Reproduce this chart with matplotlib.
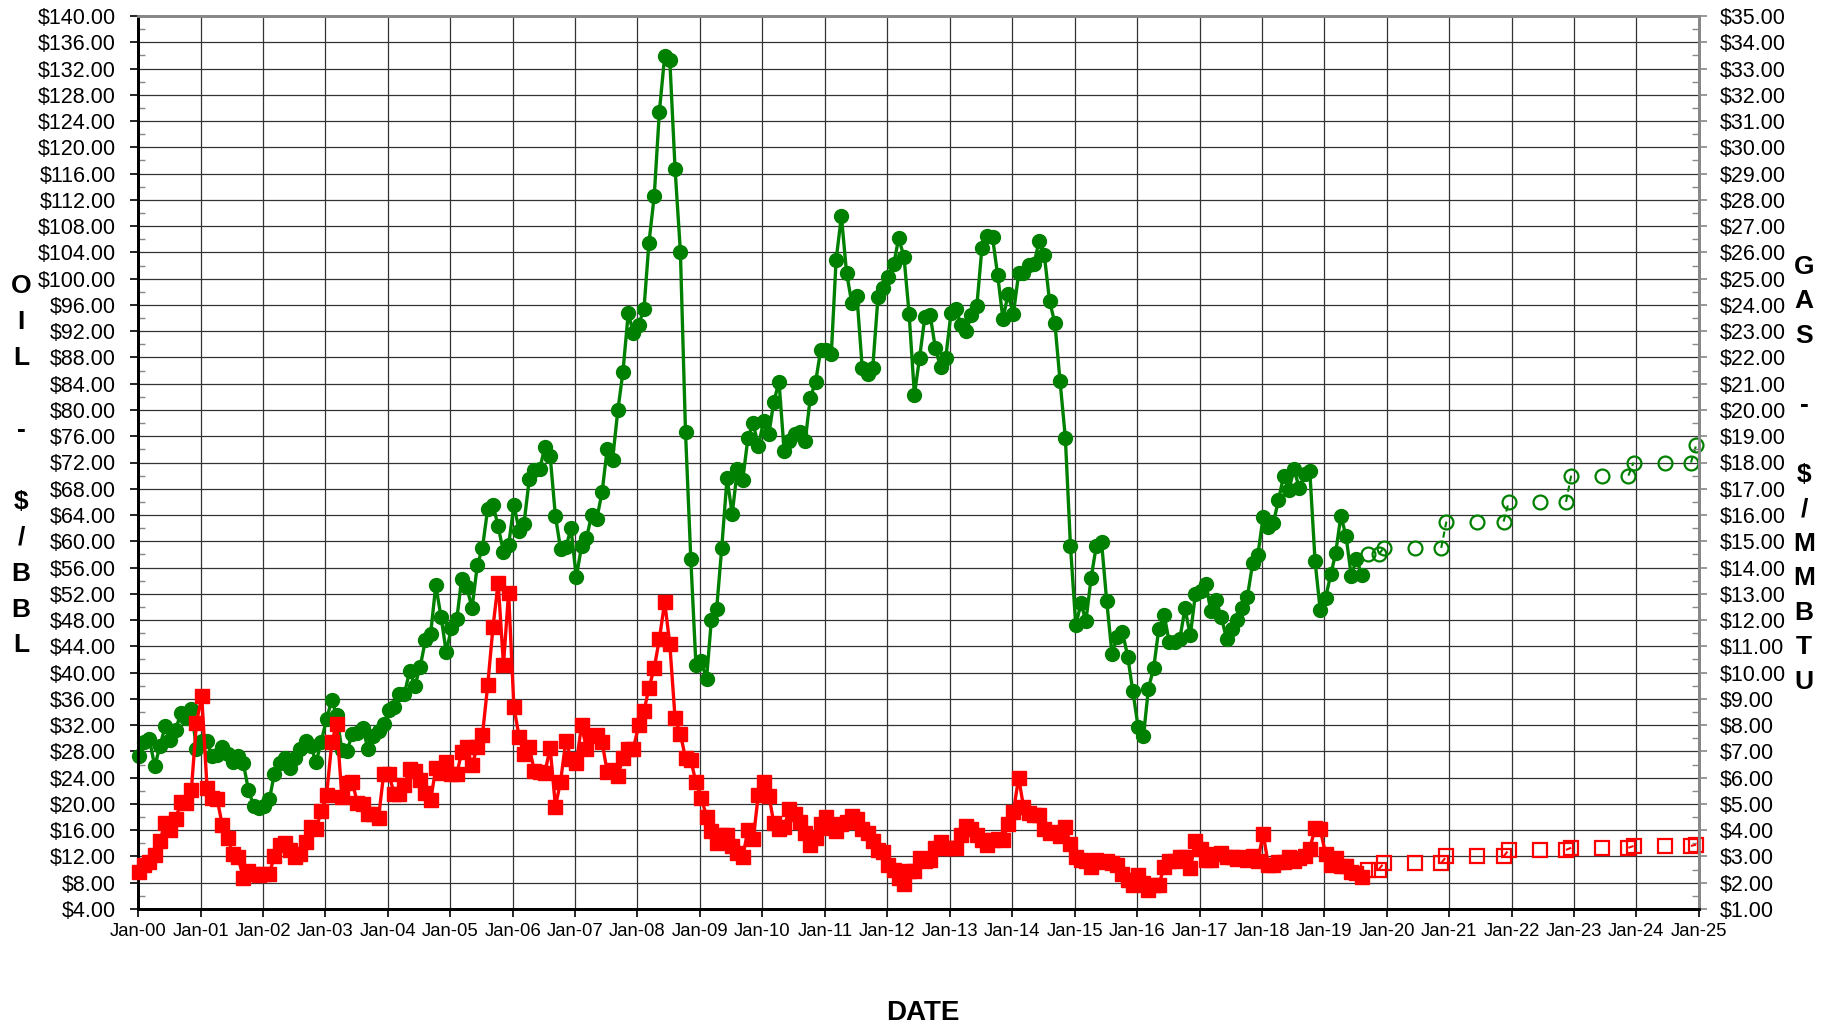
import matplotlib
matplotlib.use('Agg')
import matplotlib.pyplot as plt
import matplotlib.dates as mdates
from matplotlib.ticker import MultipleLocator, FormatStrFormatter
import pandas as pd

plt.rcParams['font.family'] = ['Liberation Sans', 'DejaVu Sans']

# monthly WTI oil price, $/bbl, Jan-2000 .. Aug-2019
oil = [27.26, 29.37, 29.84, 25.72, 28.79, 31.82, 29.70, 31.26, 33.88, 33.11, 34.42, 28.44,
       29.59, 29.61, 27.25, 27.49, 28.63, 27.60, 26.43, 27.37, 26.20, 22.17, 19.64, 19.39,
       19.72, 20.72, 24.53, 26.18, 27.04, 25.52, 26.97, 28.39, 29.66, 28.84, 26.35, 29.46,
       32.95, 35.83, 33.51, 28.17, 28.11, 30.66, 30.76, 31.57, 28.31, 30.34, 31.11, 32.13,
       34.31, 34.69, 36.74, 36.75, 40.28, 38.03, 40.78, 44.90, 45.94, 53.28, 48.47, 43.15,
       46.84, 48.15, 54.19, 52.98, 49.83, 56.35, 59.00, 64.99, 65.59, 62.26, 58.32, 59.41,
       65.49, 61.63, 62.69, 69.44, 70.84, 70.95, 74.41, 73.04, 63.80, 58.89, 59.08, 61.96,
       54.51, 59.28, 60.44, 63.98, 63.46, 67.49, 74.12, 72.36, 79.92, 85.80, 94.77, 91.69,
       92.97, 95.39, 105.45, 112.58, 125.40, 133.88, 133.37, 116.67, 104.11, 76.61, 57.31, 41.12,
       41.71, 39.09, 47.94, 49.65, 59.03, 69.64, 64.15, 71.05, 69.41, 75.72, 77.99, 74.47,
       78.33, 76.39, 81.20, 84.29, 73.74, 75.34, 76.32, 76.60, 75.24, 81.89, 84.25, 89.15,
       89.17, 88.58, 102.86, 109.53, 100.90, 96.26, 97.30, 86.33, 85.52, 86.32, 97.16, 98.56,
       100.27, 102.20, 106.16, 103.32, 94.66, 82.30, 87.90, 94.13, 94.51, 89.49, 86.53, 87.86,
       94.76, 95.31, 92.94, 92.02, 94.51, 95.77, 104.67, 106.57, 106.29, 100.54, 93.86, 97.63,
       94.62, 100.82, 100.80, 102.07, 102.18, 105.79, 103.59, 96.54, 93.21, 84.40, 75.79, 59.29,
       47.22, 50.58, 47.82, 54.45, 59.27, 59.82, 50.90, 42.87, 45.48, 46.22, 42.44, 37.19,
       31.68, 30.32, 37.55, 40.75, 46.71, 48.76, 44.65, 44.72, 45.18, 49.78, 45.66, 51.97,
       52.50, 53.47, 49.33, 51.06, 48.48, 45.18, 46.63, 48.04, 49.82, 51.58, 56.64, 57.88,
       63.70, 62.23, 62.73, 66.25, 69.98, 67.87, 70.98, 68.06, 70.23, 70.75, 56.96, 49.52,
       51.38, 54.95, 58.15, 63.86, 60.83, 54.66, 57.35, 54.81]

# monthly gas price, $/MMBTU, Jan-2000 .. Aug-2019
gas = [2.42, 2.66, 2.79, 3.04, 3.59, 4.29, 3.99, 4.43, 5.06, 5.02, 5.52, 8.10,
       9.10, 5.61, 5.23, 5.19, 4.19, 3.72, 3.11, 2.97, 2.19, 2.46, 2.34, 2.30,
       2.32, 2.32, 3.03, 3.43, 3.50, 3.26, 2.99, 3.09, 3.55, 4.13, 4.04, 4.74,
       5.33, 7.35, 8.05, 5.26, 5.81, 5.82, 5.03, 4.99, 4.62, 4.63, 4.47, 6.13,
       6.14, 5.37, 5.39, 5.71, 6.33, 6.27, 5.93, 5.41, 5.15, 6.35, 6.17, 6.58,
       6.15, 6.14, 6.96, 7.16, 6.47, 7.18, 7.63, 9.53, 11.75, 13.42, 10.30, 13.05,
       8.69, 7.54, 6.89, 7.16, 6.25, 6.21, 6.17, 7.14, 4.90, 5.85, 7.41, 6.73,
       6.55, 8.00, 7.11, 7.60, 7.64, 7.35, 6.22, 6.29, 6.08, 6.74, 7.10, 7.11,
       7.99, 8.54, 9.41, 10.18, 11.27, 12.69, 11.09, 8.26, 7.67, 6.74, 6.68, 5.82,
       5.24, 4.52, 3.96, 3.50, 3.83, 3.80, 3.38, 3.14, 2.99, 4.01, 3.66, 5.35,
       5.83, 5.32, 4.29, 4.03, 4.14, 4.80, 4.63, 4.32, 3.89, 3.43, 3.71, 4.25,
       4.49, 4.09, 3.97, 4.24, 4.31, 4.54, 4.42, 4.06, 3.90, 3.57, 3.24, 3.17,
       2.67, 2.50, 2.17, 1.95, 2.43, 2.46, 2.95, 2.84, 2.85, 3.32, 3.54, 3.34,
       3.33, 3.33, 3.81, 4.17, 4.04, 3.83, 3.62, 3.43, 3.62, 3.68, 3.64, 4.24,
       4.71, 6.00, 4.90, 4.66, 4.58, 4.59, 4.05, 3.91, 3.92, 3.78, 4.12, 3.48,
       2.99, 2.87, 2.83, 2.61, 2.85, 2.78, 2.84, 2.77, 2.66, 2.34, 2.09, 1.93,
       2.28, 1.99, 1.73, 1.92, 1.92, 2.59, 2.82, 2.82, 2.99, 2.98, 2.55, 3.59,
       3.30, 2.85, 2.88, 3.10, 3.15, 2.98, 2.98, 2.90, 2.98, 2.88, 3.01, 2.82,
       3.87, 2.67, 2.69, 2.80, 2.80, 2.97, 2.83, 2.96, 3.00, 3.28, 4.09, 4.04,
       3.11, 2.69, 2.95, 2.65, 2.64, 2.40, 2.37, 2.22]

# forecast (strip) prices
fc_dates = ['2019-09-15', '2019-11-15', '2019-12-15',
            '2020-06-15', '2020-11-15', '2020-12-15',
            '2021-06-15', '2021-11-15', '2021-12-15',
            '2022-06-15', '2022-11-15', '2022-12-15',
            '2023-06-15', '2023-11-15', '2023-12-15',
            '2024-06-15', '2024-11-15', '2024-12-15']
oil_fc = [58, 58, 59, 59, 59, 63, 63, 63, 66, 66, 66, 70, 70, 70, 72, 72, 72, 74.6]
gas_fc = [2.5, 2.5, 2.75, 2.75, 2.75, 3.0, 3.0, 3.0, 3.25, 3.25, 3.25, 3.33, 3.33, 3.33,
          3.4, 3.4, 3.4, 3.45]

# monthly points sit about a week into each month
dates = pd.date_range('2000-01-01', periods=len(oil), freq='MS') + pd.Timedelta(days=7)
fcd = pd.to_datetime(fc_dates)

GREEN = '#008000'
RED = '#ff0000'

fig = plt.figure(figsize=(18.37, 10.31), dpi=100)
ax = fig.add_axes([138/1837, 1-909/1031, (1699-138)/1837, (909-16)/1031])
ax2 = ax.twinx()

ax.plot(dates, oil, color=GREEN, lw=2.4, marker='o', ms=10, zorder=3, clip_on=False)
ax2.plot(dates, gas, color=RED, lw=2.4, marker='s', ms=10, zorder=3, clip_on=False)

ax.plot(fcd, oil_fc, ls='none', marker='o', ms=10, mfc='none', mec=GREEN, mew=1.6, clip_on=False)
ax2.plot(fcd, gas_fc, ls='none', marker='s', ms=10, mfc='none', mec=RED, mew=1.6, clip_on=False)
# dashed joins where the strip price steps
for i in range(1, len(fcd)):
    if oil_fc[i] != oil_fc[i-1]:
        ax.plot(fcd[i-1:i+1], oil_fc[i-1:i+1], color=GREEN, lw=1.5, ls=(0, (3, 2)))
    if gas_fc[i] != gas_fc[i-1]:
        ax2.plot(fcd[i-1:i+1], gas_fc[i-1:i+1], color=RED, lw=1.5, ls=(0, (3, 2)))

ax.set_xlim(pd.Timestamp('2000-01-01'), pd.Timestamp('2025-01-01'))
ax.set_ylim(4, 140)
ax2.set_ylim(1, 35)

ax.xaxis.set_major_locator(mdates.YearLocator(1))
ax.xaxis.set_major_formatter(mdates.DateFormatter('%b-%y'))
ax.yaxis.set_major_locator(MultipleLocator(4))
ax.yaxis.set_minor_locator(MultipleLocator(2))
ax.yaxis.set_major_formatter(FormatStrFormatter('$%.2f'))
ax2.yaxis.set_major_locator(MultipleLocator(1))
ax2.yaxis.set_minor_locator(MultipleLocator(0.5))
ax2.yaxis.set_major_formatter(FormatStrFormatter('$%.2f'))

ax.grid(True, which='major', color='#333333', lw=0.9)
ax.set_axisbelow(True)

ax.tick_params(axis='y', which='major', direction='out', length=6, width=1.2, pad=10, labelsize=15.5)
ax.tick_params(axis='y', which='minor', direction='in', length=5, width=1, color='#888888')
ax.tick_params(axis='x', which='major', direction='out', length=6, width=1.2, pad=4, labelsize=13.3)
ax2.tick_params(axis='y', which='major', direction='out', length=6, width=1.2, pad=9,
                labelsize=15.5, color='#888888')
ax2.tick_params(axis='y', which='minor', direction='in', length=5, width=1, color='#888888')

for a in (ax, ax2):
    a.spines['left'].set_color('black')
    a.spines['left'].set_linewidth(2)
    a.spines['bottom'].set_color('black')
    a.spines['bottom'].set_linewidth(2)
    a.spines['top'].set_color('#888888')
    a.spines['top'].set_linewidth(2)
    a.spines['right'].set_color('#888888')
    a.spines['right'].set_linewidth(2)

# stacked axis captions
left_txt = ['O', 'I', 'L', '', '-', '', '$', '/', 'B', 'B', 'L']
for i, ch in enumerate(left_txt):
    y = 466 + (i - 5) * 35.9
    fig.text(21/1837, 1 - y/1031, ch, ha='center', va='center', fontsize=19, fontweight='bold')

right_txt = ['G', 'A', 'S', '', '-', '', '$', '/', 'M', 'M', 'B', 'T', 'U']
for i, ch in enumerate(right_txt):
    y = 474.5 + (i - 6) * 34.6
    fig.text(1804/1837, 1 - y/1031, ch, ha='center', va='center', fontsize=19, fontweight='bold')

fig.text(923/1837, 1 - 1013/1031, 'DATE', ha='center', va='center', fontsize=20, fontweight='bold')

fig.savefig('out.png', dpi=100)
